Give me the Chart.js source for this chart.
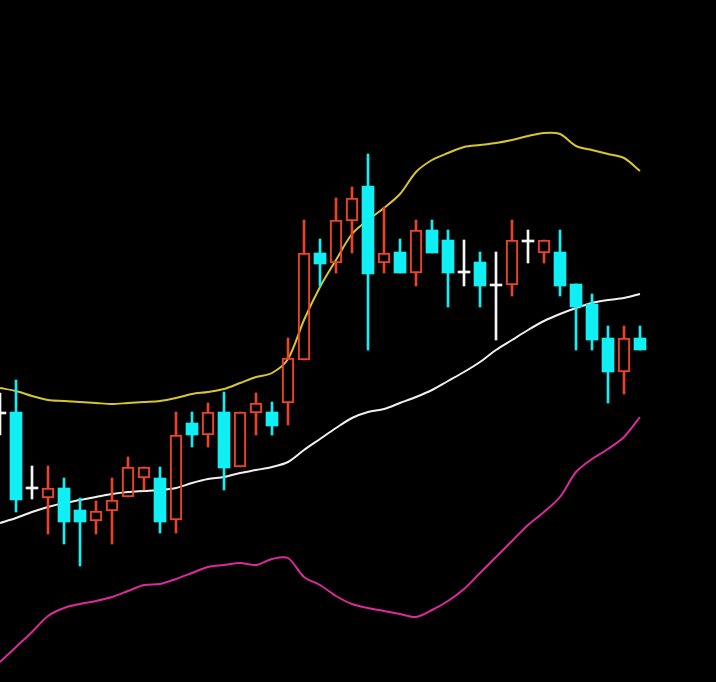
<!DOCTYPE html>
<html>
<head>
<meta charset="utf-8">
<script src="https://cdn.jsdelivr.net/npm/chart.js@4"></script>
<style>
  html, body { margin:0; padding:0; background:#000; }
  #wrap { width:716px; height:682px; position:relative; background:#000; }
</style>
</head>
<body>
<div id="wrap"><canvas id="kline"></canvas></div>
<script>
// daily candles, one per session
const opens  = [12.69,12.70,11.94,11.84,11.94,11.72,11.61,11.71,11.85,12.04,12.04,11.62,12.59,12.47,12.70,12.15,12.69,12.70,12.79,13.22,14.29,14.19,14.61,14.96,14.19,14.30,14.09,14.52,14.42,14.10,14.20,13.97,13.97,14.41,14.29,14.30,13.98,13.78,13.44,13.10,13.44];
const highs  = [12.89,13.02,12.16,12.16,12.04,11.84,11.81,12.04,12.25,12.15,12.15,12.70,12.70,12.79,12.90,12.70,12.89,12.80,13.44,14.62,14.43,14.84,14.95,15.28,14.75,14.43,14.62,14.62,14.52,14.42,14.30,14.30,14.62,14.52,14.42,14.52,13.98,13.88,13.56,13.56,13.56];
const lows   = [12.47,11.70,11.83,11.48,11.38,11.16,11.48,11.38,11.85,11.92,11.49,11.49,12.35,12.35,11.92,12.15,12.47,12.47,12.57,13.22,13.96,14.09,14.29,13.32,14.09,14.09,13.96,14.29,13.75,13.96,13.75,13.42,13.86,14.19,14.19,13.86,13.32,13.32,12.79,12.88,13.32];
const closes = [12.69,11.82,11.94,11.94,11.60,11.60,11.71,11.82,12.15,12.15,11.60,12.47,12.47,12.70,12.14,12.70,12.79,12.56,13.24,14.29,14.18,14.62,14.84,14.08,14.29,14.09,14.52,14.29,14.09,14.10,13.96,13.97,14.42,14.41,14.42,13.96,13.75,13.42,13.10,13.44,13.32];

// bollinger bands
const bollUpper = [12.94,12.91,12.86,12.82,12.81,12.80,12.79,12.78,12.79,12.80,12.81,12.84,12.88,12.90,12.93,12.99,13.05,13.09,13.23,13.62,13.95,14.22,14.48,14.62,14.74,14.88,15.10,15.22,15.29,15.35,15.37,15.39,15.42,15.46,15.49,15.48,15.36,15.32,15.28,15.24,15.11];
const bollMid   = [11.59,11.64,11.70,11.75,11.79,11.82,11.85,11.88,11.90,11.91,11.92,11.94,11.99,12.03,12.05,12.09,12.12,12.15,12.20,12.32,12.43,12.54,12.64,12.70,12.73,12.79,12.85,12.92,13.01,13.10,13.20,13.32,13.42,13.52,13.61,13.68,13.74,13.79,13.82,13.84,13.88];
const bollLower = [10.20,10.35,10.50,10.66,10.74,10.78,10.81,10.85,10.91,10.97,10.98,11.03,11.09,11.15,11.17,11.19,11.17,11.23,11.24,11.05,10.97,10.86,10.78,10.74,10.71,10.68,10.65,10.72,10.81,10.93,11.09,11.25,11.41,11.57,11.70,11.85,12.10,12.23,12.33,12.45,12.65];

const UP = '#ea4428', DOWN = '#10f0f4', FLAT = '#f4f4f4';

function colorOf(i) {
  if (closes[i] > opens[i]) return UP;
  if (closes[i] < opens[i]) return DOWN;
  return FLAT;
}

const idx = opens.map((_, i) => i);

const upperWick = idx.map(i => ({ x:i, y:[Math.max(opens[i], closes[i]), highs[i]] }));
const lowerWick = idx.map(i => ({ x:i, y:[lows[i], Math.min(opens[i], closes[i])] }));
const bodies = idx.map(i => {
  if (opens[i] === closes[i]) return { x:i, y:[opens[i] - 0.01, opens[i] + 0.01] };
  return { x:i, y:[opens[i], closes[i]] };
});

const line = (arr) => idx.map(i => ({ x:i, y:arr[i] }));

new Chart(document.getElementById('kline'), {
  type:'bar',
  data:{
    datasets:[
      { type:'bar', data:bodies, order:0, grouped:false, barThickness:12,
        backgroundColor:ctx => { const c = colorOf(ctx.dataIndex); return c === UP ? 'rgba(0,0,0,0)' : c; },
        borderColor:ctx => colorOf(ctx.dataIndex),
        borderWidth:ctx => colorOf(ctx.dataIndex) === UP ? 1.5 : 0,
        borderSkipped:false },
      { type:'bar', data:upperWick, order:1, grouped:false, barThickness:2,
        backgroundColor:ctx => colorOf(ctx.dataIndex) },
      { type:'bar', data:lowerWick, order:1, grouped:false, barThickness:2,
        backgroundColor:ctx => colorOf(ctx.dataIndex) },
      { type:'line', data:line(bollUpper), order:2, borderColor:'#d8c530', borderWidth:2, pointRadius:0, tension:0.3 },
      { type:'line', data:line(bollMid),   order:2, borderColor:'#f0f0f0', borderWidth:2, pointRadius:0, tension:0.3 },
      { type:'line', data:line(bollLower), order:2, borderColor:'#dc2a9c', borderWidth:2, pointRadius:0, tension:0.3 }
    ]
  },
  options:{
    responsive:true,
    maintainAspectRatio:false,
    animation:false,
    layout:{ padding:0 },
    plugins:{ legend:{ display:false }, tooltip:{ enabled:false } },
    scales:{
      x:{ type:'linear', display:false, min:0, max:44.75, offset:false },
      y:{ display:false, min:10, max:16.82 }
    }
  }
});
</script>
</body>
</html>
